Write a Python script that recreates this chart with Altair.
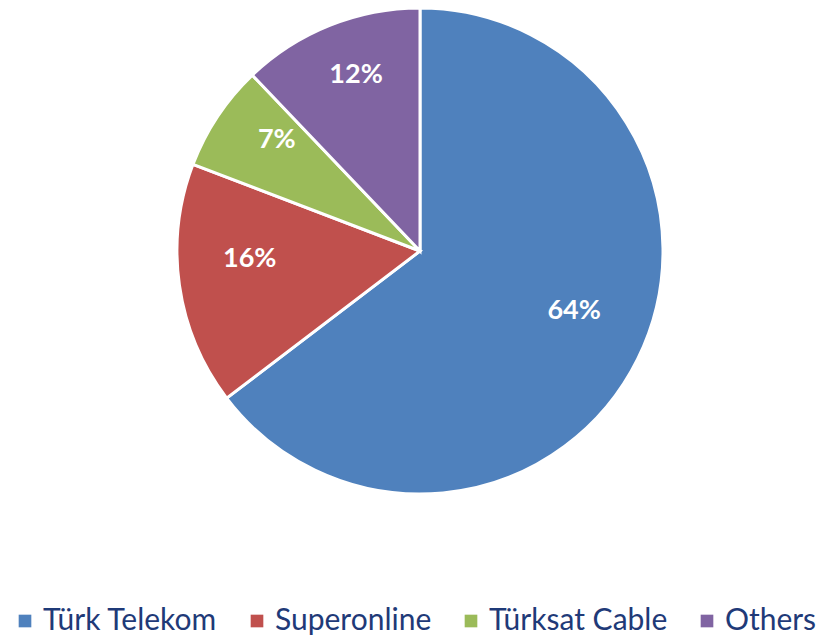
import altair as alt
import pandas as pd

companies = ["Türk Telekom", "Superonline", "Türksat Cable", "Others"]
shares = [64, 16, 7, 12]
labels = ["64%", "16%", "7%", "12%"]
colors = ["#4F81BD", "#C0504D", "#9BBB59", "#8064A2"]

df = pd.DataFrame({"company": companies, "share": shares, "label": labels,
                   "order": list(range(len(companies)))})

color = alt.Color("company:N", sort=companies,
                  scale=alt.Scale(domain=companies, range=colors),
                  legend=alt.Legend(orient="none", legendX=10, legendY=606, padding=0,
                                    direction="horizontal", title=None,
                                    labelFontSize=30, labelFont="Lato", labelColor="#1F3A78",
                                    symbolType="square", symbolSize=160, symbolStrokeWidth=0,
                                    columnPadding=24, labelLimit=400,
                                    labelOffset=3, symbolOffset=0))

base = alt.Chart(df).encode(
    theta=alt.Theta("share:Q", stack=True),
    order=alt.Order("order:Q"),
)

pie = base.mark_arc(outerRadius=243, stroke="white", strokeWidth=3).encode(
    color=color, x=alt.value(420), y=alt.value(251)
)

text = base.mark_text(radius=172, dy=-16, font="Lato", fontSize=27, fontWeight="bold",
                      color="white").encode(
    text="label:N", x=alt.value(420), y=alt.value(251)
)

chart = (pie + text).properties(width=832, height=570, padding=0).configure_view(stroke=None)

chart.save("out.html", embed_options={"renderer": "svg", "actions": False})
